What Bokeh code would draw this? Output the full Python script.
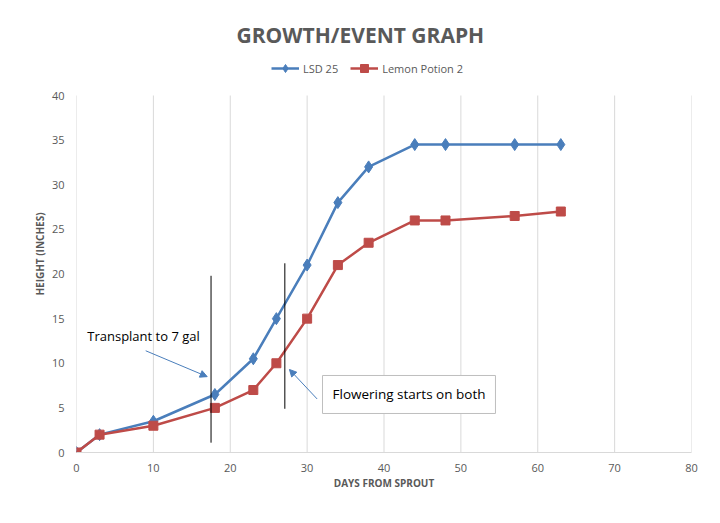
from bokeh.plotting import figure
from bokeh.models import Range1d, Legend, LegendItem, Label, Arrow, NormalHead, FixedTicker, Title
from bokeh.embed import file_html
from bokeh.resources import INLINE

days_lsd = [0, 3, 10, 18, 23, 26, 30, 34, 38, 44, 48, 57, 63]
height_lsd = [0, 2, 3.5, 6.5, 10.5, 15, 21, 28, 32, 34.5, 34.5, 34.5, 34.5]
days_lemon = [0, 3, 10, 18, 23, 26, 30, 34, 38, 44, 48, 57, 63]
height_lemon = [0, 2, 3, 5, 7, 10, 15, 21, 23.5, 26, 26, 26.5, 27]
x_ticks = [0, 10, 20, 30, 40, 50, 60, 70, 80]
y_ticks = [0, 5, 10, 15, 20, 25, 30, 35, 40]
y_min, y_max = 0, 40

# event markers (vertical lines) and annotations
event_x = [17.5, 27.1]
event_y0 = [1.1, 4.9]
event_y1 = [19.8, 21.2]

BLUE = "#4a7ebb"
RED = "#be4b48"
GREY = "#595959"
FONT = "Open Sans"

FRAME_H = 507 - 55 - 55
top_pad = (FRAME_H / 357.0) * (y_max - y_min)  # room above the 40 line for the legend

p = figure(width=704, height=507, output_backend="svg", toolbar_location=None,
           x_range=Range1d(0, 80), y_range=Range1d(y_min, y_min + top_pad),
           min_border_left=76, min_border_right=13, min_border_bottom=55, min_border_top=55)
p.title = Title(text="GROWTH/EVENT GRAPH", align="left", offset=160, text_font=FONT,
                text_font_size="21px", text_font_style="bold", text_color=GREY, standoff=13)

p.xgrid.grid_line_color = None
p.ygrid.grid_line_color = None
# vertical gridlines, only across the 0-40 band
p.segment(x0=x_ticks, y0=[y_min] * len(x_ticks), x1=x_ticks, y1=[y_max] * len(x_ticks),
          line_color="#d9d9d9", line_width=1)

p.xaxis.ticker = FixedTicker(ticks=x_ticks)
p.yaxis.ticker = FixedTicker(ticks=y_ticks)
for ax in (p.xaxis[0], p.yaxis[0]):
    ax.major_tick_line_color = None
    ax.minor_tick_line_color = None
    ax.major_label_text_color = GREY
    ax.major_label_text_font = FONT
    ax.major_label_text_font_size = "11px"
    ax.axis_label_text_font = FONT
    ax.axis_label_text_font_size = "10px"
    ax.axis_label_text_font_style = "bold"
    ax.axis_label_text_color = GREY
p.xaxis.axis_line_color = "#d9d9d9"
p.yaxis.axis_line_color = None
p.xaxis.axis_label = "DAYS FROM SPROUT"
p.yaxis.axis_label = "HEIGHT (INCHES)"
p.xaxis.major_label_standoff = 5
p.xaxis.axis_label_standoff = 1
p.yaxis.major_label_standoff = 6
p.yaxis.axis_label_standoff = 2
p.outline_line_color = None

l1 = p.line(days_lsd, height_lsd, line_color=BLUE, line_width=2.5)
m1 = p.scatter(days_lsd, height_lsd, marker="diamond", size=12, fill_color=BLUE, line_color=BLUE)
l2 = p.line(days_lemon, height_lemon, line_color=RED, line_width=2.5)
m2 = p.scatter(days_lemon, height_lemon, marker="square", size=9, fill_color=RED, line_color=RED)

p.segment(x0=event_x, y0=event_y0, x1=event_x, y1=event_y1, line_color="black", line_width=1)

p.add_layout(Arrow(end=NormalHead(size=7, fill_color=BLUE, line_color=BLUE),
                   x_start=9.0, y_start=11.4, x_end=17.0, y_end=8.5,
                   line_color=BLUE, line_width=1))
p.add_layout(Arrow(end=NormalHead(size=7, fill_color=BLUE, line_color=BLUE),
                   x_start=31.3, y_start=6.0, x_end=27.7, y_end=9.3,
                   line_color=BLUE, line_width=1))

p.add_layout(Label(x=1.4, y=13.1, text="Transplant to 7 gal", text_font=FONT,
                   text_font_size="13px", text_color="black", text_baseline="middle"))
p.add_layout(Label(x=32.0, y=6.5, text="Flowering starts on both", text_font=FONT,
                   text_font_size="13.5px", text_color="black", text_baseline="middle",
                   border_line_color="#bfbfbf", background_fill_color="white",
                   padding=10))

legend = Legend(items=[LegendItem(label="LSD 25", renderers=[l1, m1]),
                       LegendItem(label="Lemon Potion 2", renderers=[l2, m2])],
                orientation="horizontal", location=(195, 374), border_line_color=None,
                background_fill_alpha=0,
                label_text_font=FONT, label_text_font_size="11px", label_text_color=GREY,
                glyph_width=28, label_standoff=4, spacing=12, padding=2, margin=0)
p.add_layout(legend, "center")

open("out.html", "w").write(file_html(p, INLINE))
